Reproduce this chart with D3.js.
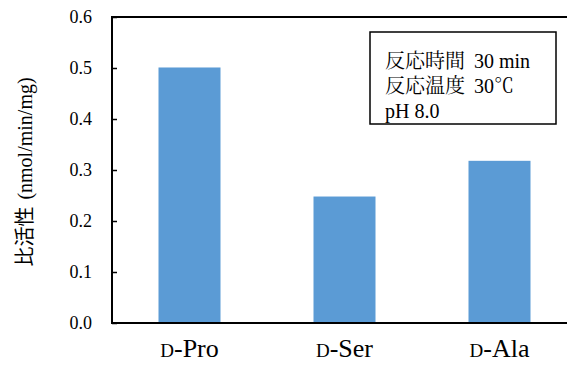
<!DOCTYPE html>
<html><head><meta charset="utf-8">
<script src="https://cdn.jsdelivr.net/npm/d3@7"></script>
<style>body{margin:0;background:#fff}</style>
</head><body>
<svg id="c" width="567" height="365"></svg>
<script>
const categories = ["Pro", "Ser", "Ala"];
const values = [0.501, 0.248, 0.318];
const yTicks = [0, 0.1, 0.2, 0.3, 0.4, 0.5, 0.6];
const legendLines = [["反応時間", "30 min"], ["反応温度", "30℃"], ["pH 8.0", ""]];

const svg = d3.select("#c");
const m = {left: 112, top: 17, right: 577, bottom: 323};
const serif = "'Times New Roman', Tinos, serif";
const cjk = "'Times New Roman', Tinos, 'Noto Serif CJK JP', serif";

const x = d3.scaleBand().domain(categories).range([m.left, m.right]).paddingInner(0.6).paddingOuter(0.3);
const y = d3.scaleLinear().domain([0, 0.6]).range([m.bottom, m.top]);

svg.selectAll("rect.bar").data(values).enter().append("rect")
  .attr("class", "bar")
  .attr("x", (d, i) => x(categories[i]))
  .attr("width", x.bandwidth())
  .attr("y", d => y(d))
  .attr("height", d => y(0) - y(d))
  .attr("fill", "#5B9BD5");

// frame
svg.append("rect").attr("x", m.left).attr("y", m.top)
  .attr("width", m.right - m.left).attr("height", m.bottom - m.top)
  .attr("fill", "none").attr("stroke", "#000").attr("stroke-width", 2);

// y axis
const yAxis = d3.axisLeft(y).tickValues(yTicks).tickFormat(d3.format(".1f")).tickSizeInner(-5).tickSizeOuter(0).tickPadding(20);
const ga = svg.append("g").attr("transform", `translate(${m.left},0)`).call(yAxis);
ga.attr("font-family", null);
ga.select(".domain").remove();
ga.selectAll(".tick line").attr("stroke", "#000").attr("stroke-width", 1.5);
ga.selectAll(".tick text").style("font-family", serif).style("font-size", "18px").attr("fill", "#000");

// x labels
const gx = svg.append("g");
categories.forEach(c => {
  const t = gx.append("text").attr("x", x(c) + x.bandwidth() / 2).attr("y", 357)
    .attr("text-anchor", "middle").style("font-family", serif).style("font-size", "26px").attr("fill", "#000");
  t.append("tspan").style("font-size", "19px").text("D");
  t.append("tspan").text("-" + c);
});

// y title
const yt = svg.append("text").attr("transform", "translate(32,172) rotate(-90)")
  .attr("text-anchor", "middle").attr("fill", "#000");
yt.append("tspan").style("font-family", "'Noto Sans CJK JP', sans-serif").style("font-size", "20px").text("比活性");
yt.append("tspan").style("font-family", serif).style("font-size", "20px").attr("dx", 7).text("(nmol/min/mg)");

// legend box
svg.append("rect").attr("x", 370).attr("y", 32).attr("width", 186).attr("height", 92)
  .attr("fill", "#fff").attr("stroke", "#000").attr("stroke-width", 1.5);
legendLines.forEach((l, i) => {
  const t = svg.append("text").attr("x", 385).attr("y", 68 + i * 25)
    .style("font-family", cjk).style("font-size", "20px").attr("fill", "#000");
  t.append("tspan").text(l[0]);
  if (l[1]) t.append("tspan").attr("dx", 9).text(l[1]);
});
</script>
</body></html>
